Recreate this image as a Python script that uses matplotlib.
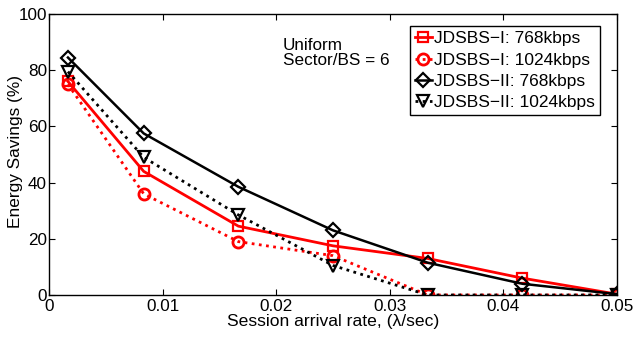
import matplotlib
matplotlib.use("Agg")
import matplotlib.pyplot as plt

plt.rcParams['font.family'] = ['Liberation Sans', 'DejaVu Sans']

# session arrival rates (1/sec)
rate = [1/600, 1/120, 1/60, 1/40, 1/30, 1/24, 1/20]
# energy savings (%)
jdsbs1_768 = [76, 44, 24.5, 17.5, 13, 6, 0.3]
jdsbs1_1024 = [75, 36, 19, 14, 0, 0, 0]
jdsbs2_768 = [84.5, 57.5, 38.5, 23, 11.5, 4, 0.3]
jdsbs2_1024 = [79.5, 49, 28.5, 10.5, 0, 0, 0]

fs = 12.3

fig = plt.figure(figsize=(6.35, 3.38), dpi=100)
ax = fig.add_axes([0.0772, 0.1272, 0.8945, 0.8314])

dot = (0, (1, 1.6))
ax.plot(rate, jdsbs1_768, color="red", lw=2, marker="s", ms=7, mfc="none", mew=1.6,
        label="JDSBS\u2212I: 768kbps")
ax.plot(rate, jdsbs1_1024, color="red", lw=2, ls=dot, marker="o", ms=8, mfc="none", mew=2,
        label="JDSBS\u2212I: 1024kbps")
ax.plot(rate, jdsbs2_768, color="black", lw=1.8, marker="D", ms=7, mfc="none", mew=1.6,
        label="JDSBS\u2212II: 768kbps")
ax.plot(rate, jdsbs2_1024, color="black", lw=2, ls=dot, marker="v", ms=9, mfc="none", mew=1.6,
        label="JDSBS\u2212II: 1024kbps")

ax.set_xlim(0, 0.05)
ax.set_ylim(0, 100)
ax.set_xticks([0, 0.01, 0.02, 0.03, 0.04, 0.05])
ax.set_xticklabels(["0", "0.01", "0.02", "0.03", "0.04", "0.05"])
ax.set_yticks([0, 20, 40, 60, 80, 100])
ax.tick_params(direction="in", top=True, right=True, labelsize=fs, length=4)
ax.tick_params(axis="y", pad=1.5)
ax.tick_params(axis="x", pad=3)
for s in ax.spines.values():
    s.set_linewidth(1.0)

ax.set_xlabel("Session arrival rate, (\u03bb/sec)", fontsize=12.6, labelpad=0)
ax.set_ylabel("Energy Savings (%)", fontsize=12.4)
ax.yaxis.set_label_coords(-0.046, 0.51)

ax.text(0.0206, 91.5, "Uniform\nSector/BS = 6", fontsize=fs, va="top", ha="left",
        linespacing=1.05)

leg = ax.legend(loc="upper right", bbox_to_anchor=(0.970, 0.957), fontsize=12.5,
                handlelength=1.0, handletextpad=0.1, borderpad=0.3, labelspacing=0.35,
                borderaxespad=0, fancybox=False, framealpha=1)
leg.get_frame().set_edgecolor("black")
leg.get_frame().set_linewidth(1.0)

fig.savefig("out.png", dpi=100)
